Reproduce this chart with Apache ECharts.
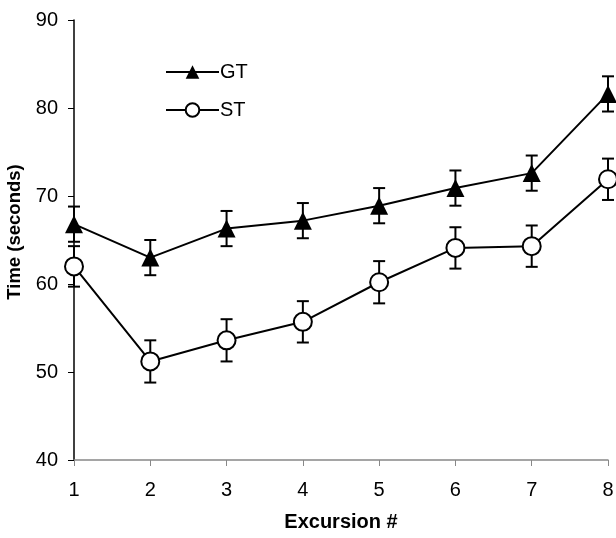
<!DOCTYPE html>
<html>
<head>
<meta charset="utf-8">
<script src="https://cdn.jsdelivr.net/npm/echarts@6/dist/echarts.min.js"></script>
<style>html,body{margin:0;padding:0;background:#fff}#c{width:616px;height:538px}</style>
</head>
<body>
<div id="c"></div>
<script>
var categories = ['1','2','3','4','5','6','7','8'];
var gtMean = [66.8, 63.0, 66.3, 67.2, 68.9, 70.9, 72.6, 81.6];
var gtErr  = [2.0, 2.0, 2.0, 2.0, 2.0, 2.0, 2.0, 2.0];
var stMean = [62.0, 51.2, 53.6, 55.7, 60.2, 64.1, 64.3, 71.9];
var stErr  = [2.3, 2.4, 2.4, 2.35, 2.4, 2.35, 2.35, 2.35];
var yTicks = [40, 50, 60, 70, 80, 90];

function errData(mean, err) {
  return mean.map(function (m, i) { return [i, m - err[i], m + err[i]]; });
}
function errRender(params, api) {
  var x = api.value(0);
  var lo = api.coord([x, api.value(1)]);
  var hi = api.coord([x, api.value(2)]);
  var w = 6;
  var st = { stroke: '#000', lineWidth: 2 };
  return {
    type: 'group',
    children: [
      { type: 'line', shape: { x1: lo[0], y1: lo[1], x2: hi[0], y2: hi[1] }, style: st },
      { type: 'line', shape: { x1: lo[0] - w, y1: lo[1], x2: lo[0] + w, y2: lo[1] }, style: st },
      { type: 'line', shape: { x1: hi[0] - w, y1: hi[1], x2: hi[0] + w, y2: hi[1] }, style: st }
    ]
  };
}

var chart = echarts.init(document.getElementById('c'), null, { renderer: 'canvas' });
var font = 'Liberation Sans, Arial, sans-serif';
chart.setOption({
  animation: false,
  backgroundColor: '#fff',
  grid: { left: 74, right: 8, top: 20, bottom: 78, containLabel: false, outerBoundsMode: 'none' },
  legend: {
    orient: 'vertical', left: 160, top: 57,
    itemWidth: 53, itemHeight: 17, itemGap: 18,
    data: ['GT', 'ST'],
    textStyle: { fontFamily: font, fontSize: 20, color: '#000', padding: [0, 0, 0, -4] }
  },
  xAxis: {
    type: 'category', data: categories, boundaryGap: false,
    name: 'Excursion #', nameLocation: 'middle', nameGap: 52,
    nameTextStyle: { fontFamily: font, fontSize: 20, fontWeight: 'bold', color: '#000' },
    axisLine: { lineStyle: { color: '#888', width: 1.5 } },
    axisTick: { show: true, length: 6, alignWithLabel: true, lineStyle: { color: '#888', width: 1 } },
    axisLabel: { fontFamily: font, fontSize: 20, color: '#000', margin: 20 },
    splitLine: { show: false }
  },
  yAxis: {
    type: 'value', min: yTicks[0], max: yTicks[yTicks.length - 1], interval: 10,
    name: 'Time (seconds)', nameLocation: 'middle', nameGap: 50,
    nameTextStyle: { fontFamily: font, fontSize: 18.5, fontWeight: 'bold', color: '#000', padding: [0, 0, 0, 16] },
    axisLine: { show: true, lineStyle: { color: '#000', width: 1.5 } },
    axisTick: { show: true, length: 6, lineStyle: { color: '#000' } },
    axisLabel: { fontFamily: font, fontSize: 20, color: '#000', margin: 16 },
    splitLine: { show: false }
  },
  series: [
    {
      type: 'custom', name: 'gtErr', renderItem: errRender, data: errData(gtMean, gtErr),
      encode: { x: 0, y: [1, 2] }, z: 1, silent: true
    },
    {
      type: 'custom', name: 'stErr', renderItem: errRender, data: errData(stMean, stErr),
      encode: { x: 0, y: [1, 2] }, z: 1, silent: true
    },
    {
      type: 'line', name: 'GT', data: gtMean, symbol: 'triangle', symbolSize: [18, 18],
      lineStyle: { color: '#000', width: 2 },
      itemStyle: { color: '#000', borderColor: '#000', borderWidth: 0 },
      z: 3
    },
    {
      type: 'line', name: 'ST', data: stMean, symbol: 'circle', symbolSize: 18,
      lineStyle: { color: '#000', width: 2 },
      itemStyle: { color: '#fff', borderColor: '#000', borderWidth: 2 },
      z: 4
    }
  ]
});
</script>
</body>
</html>
